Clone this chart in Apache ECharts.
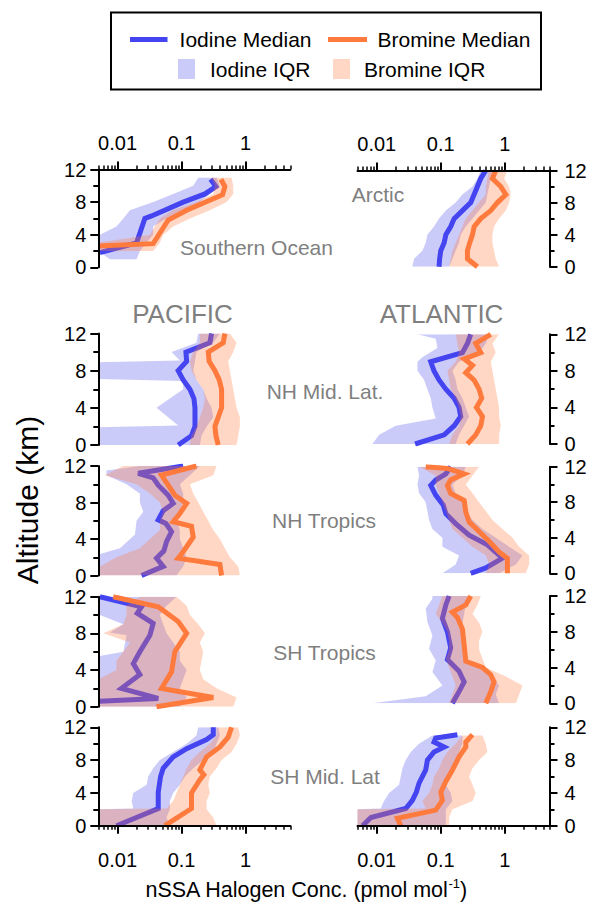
<!DOCTYPE html>
<html><head><meta charset="utf-8">
<script src="https://cdn.jsdelivr.net/npm/echarts@6/dist/echarts.min.js"></script>
<style>html,body{margin:0;padding:0;background:#fff}#c{width:590px;height:913px}</style>
</head><body><div id="c"></div>
<script>
// ---------- tick labels ----------
const X_MAJOR = [0.01, 0.1, 1];
const X_MAJOR_LABELS = ['0.01', '0.1', '1'];
const X_MINOR = [0.005,0.006,0.007,0.008,0.009,0.02,0.03,0.04,0.05,0.06,0.07,0.08,0.09,0.2,0.3,0.4,0.5,0.6,0.7,0.8,0.9,2,3,4,5];
const ALT = [0,1,2,3,4,5,6,7,8,9,10,11,12];

// ---------- data: [conc, altitude] pairs or values on ALT ----------
// Southern Ocean
const SO_iMed = [[0.0053,1.8],[0.0198,3.0],[0.0267,6.0],[0.034,6.3],[0.106,8.0],[0.232,9.0],[0.344,9.9],[0.284,10.8]];
const SO_bMed = [[0.005,2.6],[0.036,2.9],[0.0618,5.8],[0.12,7.0],[0.437,8.9],[0.475,9.9],[0.412,10.8]];
const SO_iLo = [[0.0076,1],[0.005,2],[0.005,3],[0.0053,4],[0.0096,5],[0.0123,6],[0.0156,7],[0.036,8],[0.074,9],[0.152,10],[0.182,11]];
const SO_iHi = [[0.0198,1],[0.0223,2],[0.0284,3],[0.036,4],[0.036,5],[0.058,6],[0.12,7],[0.193,8],[0.277,9],[0.397,10],[0.352,11]];
const SO_bLo = [[0.005,2],[0.005,3],[0.032,4],[0.0383,5],[0.0458,6],[0.074,7],[0.171,8],[0.313,9],[0.332,10],[0.294,11]];
const SO_bHi = [[0.036,2],[0.0458,3],[0.0516,4],[0.074,5],[0.135,6],[0.277,7],[0.505,8],[0.641,9],[0.641,10],[0.604,11]];
// Arctic
const AR_iMed = [0.094,0.096,0.1,0.113,0.12,0.143,0.162,0.218,0.294,0.332,0.374,0.422,0.505];
const AR_bMed = [0.374,0.261,0.261,0.284,0.313,0.332,0.422,0.604,0.767,1.04,0.865,0.641,0.723];
const AR_iLo = [0.036,0.0383,0.0516,0.0582,0.0618,0.0785,0.094,0.12,0.171,0.218,0.313,0.374,0.422];
const AR_iHi = [0.135,0.152,0.171,0.193,0.205,0.246,0.313,0.397,0.505,0.536,0.569,0.604,0.641];
const AR_bLo = [0.135,0.143,0.152,0.171,0.193,0.218,0.246,0.313,0.397,0.505,0.505,0.536,0.569];
const AR_bHi = [0.815,0.723,0.681,0.641,0.641,0.681,0.815,1.04,1.17,1.24,1.17,0.977,1.1];
// Pacific NH Mid. Lat.
const PNM_iMed = [0.0885,0.143,0.162,0.162,0.162,0.156,0.135,0.106,0.0885,0.12,0.117,0.277,0.294];
const PNM_bMed = [0.374,0.344,0.332,0.374,0.422,0.422,0.422,0.388,0.332,0.27,0.261,0.448,0.475];
const PNM_iLo = [[0.005,0],[0.005,1.9],[0.0885,2.1],[0.0406,4],[0.106,6],[0.106,6.9],[0.005,7.1],[0.005,8.9],[0.094,9.1],[0.0697,10],[0.171,11],[0.182,12]];
const PNM_iHi = [0.193,0.205,0.246,0.313,0.294,0.246,0.218,0.171,0.152,0.162,0.171,0.313,0.397];
const PNM_bLo = [0.135,0.143,0.171,0.193,0.218,0.232,0.218,0.171,0.143,0.135,0.152,0.193,0.193];
const PNM_bHi = [0.723,0.767,0.815,0.815,0.723,0.681,0.641,0.604,0.569,0.536,0.641,0.723,0.569];
// Atlantic NH Mid. Lat.
const ANM_iMed = [0.0397,0.113,0.162,0.205,0.193,0.162,0.12,0.094,0.0785,0.0697,0.218,0.261,0.294];
const ANM_bMed = [[0.261,0],[0.352,1],[0.422,2],[0.448,3],[0.361,4],[0.437,5],[0.397,6],[0.332,7],[0.246,7.8],[0.313,8.6],[0.232,9.3],[0.422,10],[0.352,11],[0.604,12]];
const ANM_iLo = [[0.00855,0],[0.0109,1],[0.0198,2],[0.0834,2.8],[0.074,4],[0.0697,5],[0.0618,6],[0.0549,7],[0.0432,8],[0.0432,9],[0.0516,9.5],[0.0885,10.5],[0.0834,11.5],[0.0432,12]];
const ANM_iHi = [0.171,0.193,0.232,0.277,0.246,0.218,0.182,0.171,0.152,0.193,0.397,0.505,0.569];
const ANM_bLo = [0.135,0.152,0.193,0.205,0.193,0.171,0.143,0.135,0.127,0.171,0.193,0.182,0.171];
const ANM_bHi = [0.815,0.815,0.865,0.815,0.815,0.767,0.723,0.681,0.641,0.604,0.723,0.641,0.815];
// Pacific NH Tropics
const PNT_iMed = [[0.0237,0],[0.0516,1],[0.0406,1.9],[0.0529,2.7],[0.0582,3.7],[0.0697,4.8],[0.0569,5.7],[0.0432,6.1],[0.0516,7.1],[0.074,7.9],[0.0618,8.8],[0.0432,9.9],[0.036,10.7],[0.021,11.2],[0.106,12]];
const PNT_bMed = [[0.422,0],[0.397,1.2],[0.0885,1.9],[0.106,2.6],[0.152,4.2],[0.143,5.4],[0.074,5.9],[0.094,6.8],[0.12,7.9],[0.0785,8.8],[0.0618,9.9],[0.0486,11],[0.171,12]];
const PNT_iLo = [[0.005,0],[0.005,2.3],[0.0109,3],[0.0187,4.5],[0.0198,6],[0.0252,7],[0.0223,8],[0.0223,9],[0.0138,10],[0.0067,11],[0.0067,11.5],[0.0223,12]];
const PNT_iHi = [0.0834,0.106,0.12,0.106,0.094,0.094,0.0834,0.094,0.106,0.106,0.094,0.135,0.193];
const PNT_bLo = [0.0053,0.0053,0.0096,0.0223,0.032,0.0458,0.0458,0.0516,0.0458,0.032,0.0198,0.0063,0.0123];
const PNT_bHi = [0.815,0.767,0.569,0.475,0.397,0.313,0.261,0.218,0.182,0.152,0.135,0.313,0.352];
// Atlantic NH Tropics
const ANT_iMed = [[0.294,0],[0.505,0.6],[0.92,1.7],[0.536,3.2],[0.277,4.3],[0.171,5.6],[0.12,6.7],[0.109,7.7],[0.0834,8.8],[0.0697,9.9],[0.0834,10.5],[0.12,11.2],[0.143,12]];
const ANT_bMed = [[1.1,0],[1.1,1.7],[0.815,2.4],[0.569,3.6],[0.397,4.7],[0.277,5.8],[0.246,6.9],[0.232,8.2],[0.143,9],[0.127,9.9],[0.143,10.5],[0.232,11.2],[0.127,11.8],[0.0582,12]];
const ANT_iLo = [0.106,0.171,0.193,0.106,0.106,0.074,0.0656,0.0618,0.0582,0.0458,0.0432,0.0458,0.0432];
const ANT_iHi = [0.815,1.49,1.89,1.17,0.723,0.448,0.313,0.246,0.218,0.171,0.152,0.218,0.246];
const ANT_bLo = [0.505,0.569,0.505,0.313,0.218,0.152,0.135,0.12,0.106,0.094,0.0834,0.0834,0.0458];
const ANT_bHi = [2.13,2.4,2.4,1.68,1.32,0.92,0.641,0.505,0.397,0.313,0.246,0.313,0.397];
// Pacific SH Tropics
const PST_iMed = [[0.0052,0.6],[0.0432,0.9],[0.0115,2],[0.0223,3.5],[0.0176,4.7],[0.0223,6],[0.032,7.8],[0.036,9.1],[0.0203,10.2],[0.0237,10.9],[0.0053,12]];
const PST_bMed = [[0.0406,0],[0.313,1],[0.0486,2],[0.0697,3.8],[0.0785,6],[0.12,8],[0.0885,9.3],[0.0432,10.9],[0.00855,12]];
const PST_iLo = [[0.005,0],[0.005,5.5],[0.0123,6],[0.0138,7.8],[0.0076,8.1],[0.0123,9],[0.0053,10],[0.005,11],[0.005,12]];
const PST_iHi = [0.094,0.12,0.094,0.106,0.12,0.094,0.094,0.074,0.0582,0.0516,0.0458,0.0582,0.0834];
const PST_bLo = [0.005,0.005,0.005,0.005,0.0096,0.0096,0.0123,0.0156,0.006,0.0123,0.0138,0.0138,0.0223];
const PST_bHi = [0.641,0.723,0.352,0.218,0.193,0.205,0.218,0.193,0.232,0.182,0.135,0.12,0.0834];
// Atlantic SH Tropics
const AST_iMed = [[0.152,0],[0.193,1.3],[0.232,2.4],[0.193,3.6],[0.127,4.9],[0.143,6.2],[0.127,8],[0.106,9.5],[0.12,11],[0.135,12]];
const AST_bMed = [[0.505,0],[0.604,1.3],[0.681,2.4],[0.604,3.2],[0.448,4],[0.246,4.7],[0.232,6.5],[0.218,8.3],[0.182,9.6],[0.152,10.2],[0.246,11],[0.294,12]];
const AST_iLo = [[0.00855,0],[0.0582,0.8],[0.106,2],[0.074,3.5],[0.0834,4.8],[0.0656,6.1],[0.074,7.6],[0.0618,9.1],[0.0582,10.6],[0.074,11.7],[0.074,12]];
const AST_iHi = [0.815,0.723,0.815,0.641,0.397,0.246,0.218,0.218,0.218,0.218,0.232,0.246,0.277];
const AST_bLo = [0.135,0.152,0.171,0.152,0.135,0.12,0.135,0.135,0.127,0.106,0.0834,0.094,0.106];
const AST_bHi = [1.49,1.68,1.89,1.04,0.505,0.448,0.397,0.397,0.448,0.397,0.313,0.374,0.422];
// Pacific SH Mid. Lat
const PSM_iMed = [[0.0096,0],[0.0432,2.1],[0.0432,4.1],[0.047,6],[0.0516,7],[0.074,8.4],[0.12,9.4],[0.246,10.5],[0.313,11.1],[0.313,12]];
const PSM_bMed = [[0.0548,0],[0.143,2.1],[0.143,4],[0.193,5.6],[0.223,6.2],[0.193,6.8],[0.246,8.4],[0.397,9.6],[0.536,10.8],[0.604,12]];
const PSM_iLo = [[0.005,0],[0.005,2],[0.0176,2.1],[0.0166,3],[0.0176,4],[0.0284,5],[0.0301,6],[0.036,7],[0.0458,8],[0.074,9],[0.12,10],[0.171,11],[0.182,12]];
const PSM_iHi = [0.0656,0.0582,0.0656,0.0656,0.074,0.094,0.113,0.152,0.218,0.313,0.352,0.397,0.374];
const PSM_bLo = [[0.005,0],[0.005,2],[0.0582,2.1],[0.074,3],[0.0834,4],[0.094,5],[0.106,6],[0.12,7],[0.143,8],[0.193,9],[0.277,10],[0.352,11],[0.352,12]];
const PSM_bHi = [0.352,0.313,0.246,0.246,0.277,0.261,0.277,0.352,0.422,0.604,0.723,0.815,0.767];
// Atlantic SH Mid. Lat
const ASM_iMed = [[0.006,0],[0.0081,1],[0.0284,2.1],[0.036,3.1],[0.0416,4.1],[0.0458,5.2],[0.0582,6.8],[0.0618,8],[0.0785,9],[0.113,9.6],[0.0785,10.2],[0.0834,10.7],[0.182,11.1]];
const ASM_bMed = [[0.0237,0],[0.021,0.9],[0.0834,1.9],[0.106,3.1],[0.1,4.1],[0.12,5.4],[0.152,6.8],[0.193,8.4],[0.246,9.6],[0.246,10.2],[0.313,11.1]];
const ASM_iLo = [[0.005,0],[0.005,2],[0.0115,2.1],[0.013,3],[0.0156,4],[0.0223,5],[0.0237,6],[0.0252,7],[0.0284,8],[0.034,9],[0.0458,10],[0.074,11]];
const ASM_iHi = [[0.12,0],[0.12,1],[0.12,2],[0.152,3],[0.143,4],[0.12,5],[0.127,6],[0.143,7],[0.171,8],[0.193,9],[0.218,10],[0.218,11]];
const ASM_bLo = [[0.005,0],[0.005,2],[0.0582,2.1],[0.0516,3],[0.0656,4],[0.074,5],[0.0785,6],[0.094,7],[0.106,8],[0.127,9],[0.171,10],[0.218,11]];
const ASM_bHi = [[0.135,0],[0.135,1],[0.152,2],[0.313,3],[0.352,4],[0.313,5],[0.277,6],[0.313,7],[0.397,8],[0.536,9],[0.505,10],[0.448,11]];

// ---------- styling / layout ----------
const FF = '"Liberation Sans", Arial, Helvetica, sans-serif';
const BLUE = '#4444F0', ORANGE = '#FF7A3D';
const LAV = 'rgba(70,70,238,0.28)', PEACH = 'rgba(255,122,61,0.30)';
const GRAY = '#7f7f7f';
const COL_LEFT = [98.3, 357.5], COL_W = 192;
const ROW_TOP = [[169.5,333.5,466,596.7,727.3],[170.5,334.3,466.7,596,727.3]];
const ROW_BOT = [[267.3,445,575.5,706.7,825.7],[266.7,444,573.3,703.3,825.7]];
const LOG_MIN = Math.log10(0.005), LOG_MAX = Math.log10(5);

const pts = a => typeof a[0] === 'number' ? a.map((v, k) => [v, ALT[k]]) : a;

const panels = [
  {col:0,row:0,iMed:SO_iMed,bMed:SO_bMed,iLo:SO_iLo,iHi:SO_iHi,bLo:SO_bLo,bHi:SO_bHi},
  {col:1,row:0,iMed:AR_iMed,bMed:AR_bMed,iLo:AR_iLo,iHi:AR_iHi,bLo:AR_bLo,bHi:AR_bHi},
  {col:0,row:1,iMed:PNM_iMed,bMed:PNM_bMed,iLo:PNM_iLo,iHi:PNM_iHi,bLo:PNM_bLo,bHi:PNM_bHi},
  {col:1,row:1,iMed:ANM_iMed,bMed:ANM_bMed,iLo:ANM_iLo,iHi:ANM_iHi,bLo:ANM_bLo,bHi:ANM_bHi},
  {col:0,row:2,iMed:PNT_iMed,bMed:PNT_bMed,iLo:PNT_iLo,iHi:PNT_iHi,bLo:PNT_bLo,bHi:PNT_bHi},
  {col:1,row:2,iMed:ANT_iMed,bMed:ANT_bMed,iLo:ANT_iLo,iHi:ANT_iHi,bLo:ANT_bLo,bHi:ANT_bHi},
  {col:0,row:3,iMed:PST_iMed,bMed:PST_bMed,iLo:PST_iLo,iHi:PST_iHi,bLo:PST_bLo,bHi:PST_bHi},
  {col:1,row:3,iMed:AST_iMed,bMed:AST_bMed,iLo:AST_iLo,iHi:AST_iHi,bLo:AST_bLo,bHi:AST_bHi},
  {col:0,row:4,iMed:PSM_iMed,bMed:PSM_bMed,iLo:PSM_iLo,iHi:PSM_iHi,bLo:PSM_bLo,bHi:PSM_bHi},
  {col:1,row:4,iMed:ASM_iMed,bMed:ASM_bMed,iLo:ASM_iLo,iHi:ASM_iHi,bLo:ASM_bLo,bHi:ASM_bHi}
];

const grid = [], xAxis = [], yAxis = [], series = [];
const AX = {color:'#000', width:2};

function bandSeries(lo, hi, color, xi, yi, z) {
  const data = pts(lo).concat(pts(hi).slice().reverse());
  return {
    type:'custom', xAxisIndex:xi, yAxisIndex:yi, data, encode:{x:0, y:1}, silent:true, clip:true, z,
    renderItem(params, api) {
      if (params.dataIndexInside !== 0) return null;
      const n = params.dataInsideLength, poly = [];
      for (let k = 0; k < n; k++) poly.push(api.coord([api.value(0, k), api.value(1, k)]));
      return {type:'polygon', shape:{points:poly}, style:{fill:color, stroke:null}};
    }
  };
}
function lineSeries(d, color, xi, yi, z) {
  return {type:'line', xAxisIndex:xi, yAxisIndex:yi, data:pts(d), symbol:'none', showSymbol:false, z,
    silent:true, clip:true, lineStyle:{color, width:5, join:'miter'}, itemStyle:{color}};
}

panels.forEach((p, i) => {
  const L = COL_LEFT[p.col], T = ROW_TOP[p.col][p.row], B = ROW_BOT[p.col][p.row];
  grid.push({left:L, top:T, width:COL_W, height:B - T});
  const xi = xAxis.length;
  xAxis.push({type:'log', logBase:10, gridIndex:i, min:0.005, max:5, show:false});
  if (p.row === 0 || p.row === 4) {
    const pos = p.row === 0 ? 'top' : 'bottom';
    xAxis.push({type:'value', gridIndex:i, min:LOG_MIN, max:LOG_MAX, position:pos, z:20,
      axisLine:{show:true, onZero:false, lineStyle:AX},
      axisTick:{show:true, customValues:X_MAJOR.map(Math.log10), length:8, lineStyle:AX},
      axisLabel:{show:true, customValues:X_MAJOR.map(Math.log10), fontSize:20, fontFamily:FF, color:'#000',
        margin:pos === 'top' ? 17 : 24,
        formatter:v => X_MAJOR_LABELS[Math.round(v) + 2]},
      splitLine:{show:false}});
    xAxis.push({type:'value', gridIndex:i, min:LOG_MIN, max:LOG_MAX, position:pos, z:20,
      axisLine:{show:false, onZero:false},
      axisTick:{show:true, customValues:X_MINOR.map(Math.log10), length:4, lineStyle:{color:'#000', width:1.5}},
      axisLabel:{show:false}, splitLine:{show:false}});
  }
  yAxis.push({type:'value', gridIndex:i, min:0, max:12, interval:4, position:p.col === 0 ? 'left' : 'right', z:20,
    axisLine:{show:true, onZero:false, lineStyle:AX},
    axisTick:{show:true, length:8, lineStyle:AX},
    minorTick:{show:true, splitNumber:2, length:5, lineStyle:AX},
    axisLabel:{fontSize:20, fontFamily:FF, color:'#000', margin:p.col === 0 ? 12 : 15},
    splitLine:{show:false}, minorSplitLine:{show:false}});
  // drawing order: iodine IQR, iodine median, bromine IQR, bromine median
  series.push(bandSeries(p.iLo, p.iHi, LAV, xi, i, 1));
  series.push(lineSeries(p.iMed, BLUE, xi, i, 2));
  series.push(bandSeries(p.bLo, p.bHi, PEACH, xi, i, 3));
  series.push(lineSeries(p.bMed, ORANGE, xi, i, 4));
});

function txt(text, x, y, size, color, align, extra) {
  return Object.assign({type:'text', x, y, z:100, silent:true,
    style:{text, fontSize:size, fontFamily:FF, fill:color, align:align || 'center', verticalAlign:'middle'}}, extra || {});
}

const graphic = [
  // legend
  {type:'rect', z:100, shape:{x:111, y:12.5, width:430, height:77}, style:{fill:null, stroke:'#000', lineWidth:2}},
  {type:'line', z:100, shape:{x1:130, y1:39.5, x2:167.5, y2:39.5}, style:{stroke:BLUE, lineWidth:5}},
  {type:'line', z:100, shape:{x1:328, y1:39.5, x2:367, y2:39.5}, style:{stroke:ORANGE, lineWidth:5}},
  {type:'rect', z:100, shape:{x:178, y:59, width:17, height:20}, style:{fill:LAV}},
  {type:'rect', z:100, shape:{x:333, y:59, width:17, height:20}, style:{fill:PEACH}},
  txt('Iodine Median', 179.6, 39.5, 21, '#000', 'left'),
  txt('Bromine Median', 377.5, 39.5, 21, '#000', 'left'),
  txt('Iodine IQR', 210, 69, 21, '#000', 'left'),
  txt('Bromine IQR', 364, 69, 21, '#000', 'left'),
  // ocean titles
  txt('PACIFIC', 182.5, 314, 26, GRAY),
  txt('ATLANTIC', 441.5, 314, 26, GRAY),
  // region labels
  txt('Southern Ocean', 256.5, 247, 21, GRAY),
  txt('Arctic', 378, 194, 21, GRAY),
  txt('NH Mid. Lat.', 325, 391, 21, GRAY),
  txt('NH Tropics', 324, 520, 21, GRAY),
  txt('SH Tropics', 324.5, 652, 21, GRAY),
  txt('SH Mid. Lat', 325, 776, 21, GRAY),
  // axis titles
  txt('Altitude (km)', 27, 500, 30, '#000', 'center', {rotation:Math.PI / 2}),
  {type:'text', x:306, y:890, z:100, silent:true,
    style:{text:'{a|nSSA Halogen Conc. (pmol mol}{s|-1}{a|)}', align:'center', verticalAlign:'middle',
      rich:{a:{fontSize:21.5, fontFamily:FF, fill:'#000', lineHeight:26},
            s:{fontSize:13, fontFamily:FF, fill:'#000', lineHeight:10, verticalAlign:'top'}}}}
];

const chart = echarts.init(document.getElementById('c'), null, {renderer:'svg', width:590, height:913});
chart.setOption({animation:false, backgroundColor:'#fff', grid, xAxis, yAxis, series, graphic});
</script></body></html>
